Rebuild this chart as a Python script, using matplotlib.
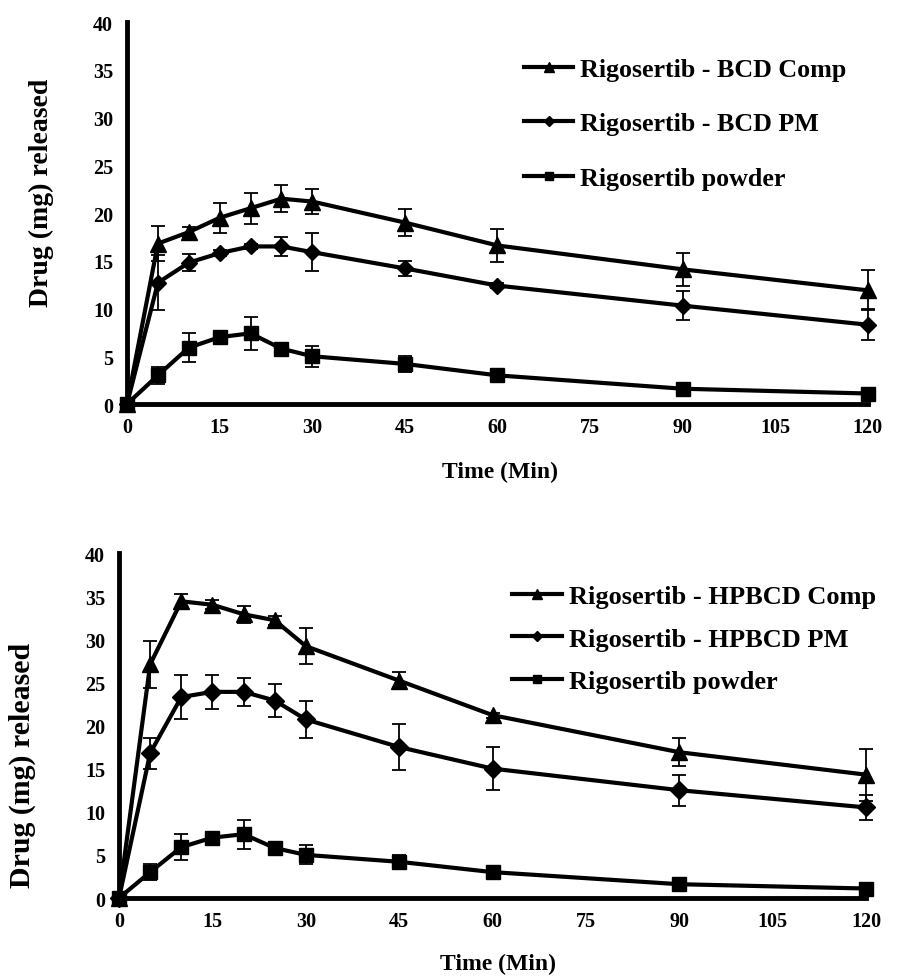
import matplotlib
matplotlib.use("Agg")
import matplotlib.pyplot as plt
from matplotlib.lines import Line2D

# time points (min)
time = [0, 5, 10, 15, 20, 25, 30, 45, 60, 90, 120]

# top panel: BCD
bcd_comp = [0, 16.8, 18.0, 19.5, 20.5, 21.5, 21.2, 19.0, 16.6, 14.1, 11.9]
bcd_comp_err = [0, 1.8, 0.5, 1.6, 1.6, 1.4, 1.3, 1.4, 1.7, 1.7, 2.1]
bcd_pm = [0, 12.7, 14.8, 15.8, 16.5, 16.5, 15.9, 14.2, 12.4, 10.3, 8.3]
bcd_pm_err = [0, 2.9, 0.9, 0.3, 0.3, 1.0, 2.0, 0.8, 0.3, 1.5, 1.6]

# bottom panel: HPBCD
hp_comp = [0, 27.1, 34.4, 34.0, 32.9, 32.2, 29.2, 25.2, 21.2, 16.9, 14.3]
hp_comp_err = [0, 2.7, 0.9, 0.5, 1.0, 0.5, 2.1, 1.0, 0.3, 1.6, 3.0]
hp_pm = [0, 16.8, 23.3, 23.9, 23.9, 22.9, 20.7, 17.5, 15.0, 12.5, 10.5]
hp_pm_err = [0, 1.8, 2.5, 2.0, 1.6, 1.9, 2.2, 2.7, 2.5, 1.8, 1.4]

# plain powder (same in both panels)
powder = [0, 3.0, 5.9, 7.0, 7.4, 5.8, 5.0, 4.2, 3.0, 1.6, 1.1]
powder_err = [0, 0.9, 1.5, 0.3, 1.7, 0.3, 1.1, 0.8, 0.3, 0.2, 0.2]

plt.rcParams["font.family"] = ["Liberation Serif", "DejaVu Serif"]
plt.rcParams["font.weight"] = "bold"

fig = plt.figure(figsize=(8.97, 9.79), dpi=100)
ax1 = fig.add_axes([0.1416, 0.5863, 0.826, 0.3902])
ax2 = fig.add_axes([0.1327, 0.0817, 0.833, 0.3524])


def draw(ax, series, legend_pos, fs, spacing):
    handles = {}
    for y, e, mk, ms, lab in series:
        ax.errorbar(time, y, yerr=e, color="black", lw=3, marker=mk, ms=ms,
                    ecolor="black", elinewidth=1.3, capsize=5, capthick=1.3,
                    clip_on=False, zorder=3)
        handles[lab] = Line2D([], [], color="black", lw=3, marker=mk, ms=ms * 0.6)
    ax.set_xlim(0, 120)
    ax.set_ylim(0, 40)
    ax.set_xticks(range(0, 121, 15))
    ax.set_yticks(range(0, 41, 5))
    for s in ["top", "right"]:
        ax.spines[s].set_visible(False)
    for s in ["left", "bottom"]:
        ax.spines[s].set_linewidth(3.5)
    ax.tick_params(length=0, labelsize=14.5)
    ax.tick_params(axis="y", pad=10)
    ax.tick_params(axis="x", pad=9)
    # legend order: Comp, PM, powder
    labs = sorted(handles, key=lambda s: ("Comp" not in s, "PM" not in s))
    ax.legend([handles[k] for k in labs], labs, loc="upper left",
              bbox_to_anchor=legend_pos, bbox_transform=fig.transFigure,
              frameon=False, prop={"weight": "bold", "size": fs},
              handlelength=1.9, handletextpad=0.27, labelspacing=spacing,
              borderpad=0, borderaxespad=0)


draw(ax1, [(powder, powder_err, "s", 10, "Rigosertib powder"),
           (bcd_pm, bcd_pm_err, "D", 8, "Rigosertib - BCD PM"),
           (bcd_comp, bcd_comp_err, "^", 12, "Rigosertib - BCD Comp")],
     (0.584, 0.940), 18.7, 1.2)
draw(ax2, [(hp_pm, hp_pm_err, "D", 9, "Rigosertib - HPBCD PM"),
           (hp_comp, hp_comp_err, "^", 11, "Rigosertib - HPBCD Comp"),
           (powder, powder_err, "s", 10, "Rigosertib powder")],
     (0.571, 0.402), 19, 0.73)

fig.text(0.557, 1 - 472 / 979, "Time (Min)", ha="center", va="center",
         fontsize=17, fontweight="bold")
fig.text(0.555, 1 - 964 / 979, "Time (Min)", ha="center", va="center",
         fontsize=17, fontweight="bold")
fig.text(41 / 897, 1 - 193 / 979, "Drug (mg) released", rotation=90,
         ha="center", va="center", fontsize=20, fontweight="bold")
fig.text(22 / 897, 1 - 765 / 979, "Drug (mg) released", rotation=90,
         ha="center", va="center", fontsize=21.5, fontweight="bold")

fig.savefig("out.png", dpi=100)
